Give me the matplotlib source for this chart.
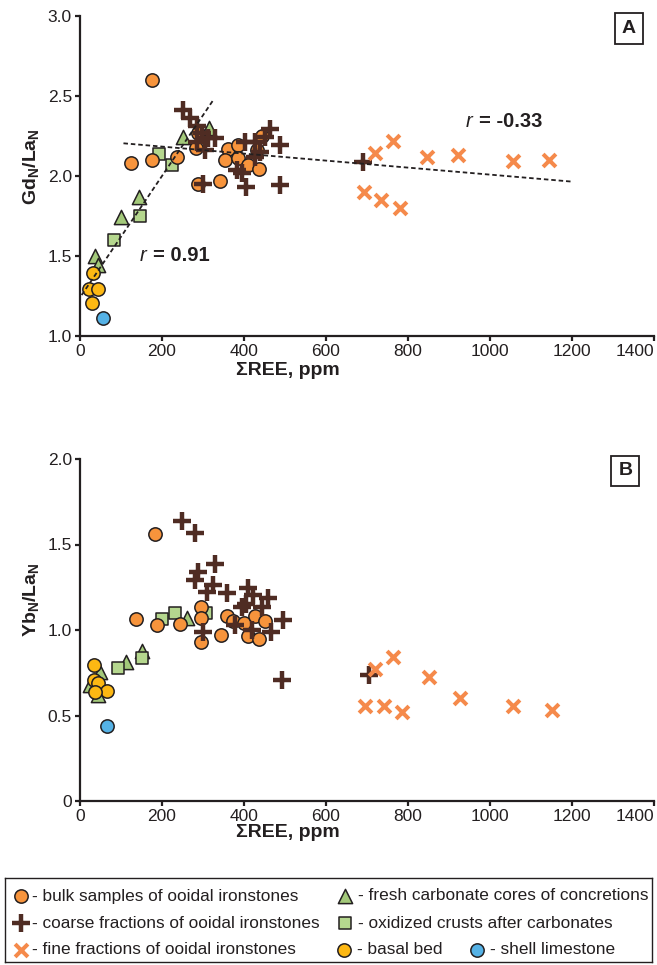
import matplotlib
matplotlib.use("Agg")
import matplotlib.pyplot as plt

plt.rcParams['font.family'] = 'Liberation Sans'
plt.rcParams['mathtext.fontset'] = 'custom'
plt.rcParams['mathtext.rm'] = 'Liberation Sans'
plt.rcParams['mathtext.it'] = 'Liberation Sans:italic'
plt.rcParams['mathtext.bf'] = 'Liberation Sans:bold'

# === Data: panel A (Gd_N/La_N vs sum REE) ===
bulk_a_x = [175, 124, 176, 236, 282, 288, 288, 341, 362, 386, 354, 386, 410, 437, 443, 431]
bulk_a_y = [2.60, 2.08, 2.10, 2.12, 2.175, 2.265, 1.95, 1.97, 2.17, 2.19, 2.10, 2.11, 2.07, 2.04, 2.25, 2.16]
coarse_a_x = [252, 268, 285, 297, 313, 329, 305, 285, 301, 402, 427, 451, 463, 488, 439, 382, 394, 406, 488, 427, 691]
coarse_a_y = [2.41, 2.36, 2.31, 2.265, 2.235, 2.235, 2.16, 2.21, 1.95, 2.21, 2.21, 2.245, 2.295, 2.19, 2.15,
              2.035, 2.015, 1.93, 1.94, 2.12, 2.085]
fine_a_x = [719, 763, 846, 923, 1057, 1145, 693, 733, 780]
fine_a_y = [2.14, 2.22, 2.12, 2.13, 2.09, 2.10, 1.90, 1.85, 1.80]
fresh_a_x = [37, 43, 100, 145, 250, 315]
fresh_a_y = [1.50, 1.44, 1.745, 1.87, 2.245, 2.30]
oxid_a_x = [84, 146, 193, 224]
oxid_a_y = [1.60, 1.75, 2.135, 2.07]
basal_a_x = [31, 23, 45, 30]
basal_a_y = [1.395, 1.295, 1.295, 1.205]
shell_a_x = [57]
shell_a_y = [1.11]

# trend lines
trend1_x = [4, 324]
trend1_y = [1.254, 2.469]
trend2_x = [106, 1202]
trend2_y = [2.2025, 1.9625]

# === Data: panel B (Yb_N/La_N vs sum REE) ===
bulk_b_x = [183, 137, 187, 244, 295, 295, 295, 344, 358, 374, 401, 410, 428, 437, 451]
bulk_b_y = [1.56, 1.065, 1.03, 1.035, 1.135, 1.07, 0.93, 0.97, 1.08, 1.05, 1.04, 0.965, 1.08, 0.95, 1.05]
coarse_b_x = [248, 280, 329, 289, 280, 325, 309, 358, 410, 423, 406, 459, 394, 443, 496, 378, 301, 419, 467, 492, 705]
coarse_b_y = [1.635, 1.57, 1.385, 1.34, 1.29, 1.265, 1.225, 1.215, 1.245, 1.205, 1.15, 1.185, 1.135, 1.135,
              1.06, 1.03, 0.99, 1.0, 0.99, 0.71, 0.735]
fine_b_x = [719, 764, 851, 927, 1057, 1150, 695, 741, 785]
fine_b_y = [0.77, 0.84, 0.725, 0.605, 0.555, 0.53, 0.555, 0.555, 0.52]
fresh_b_x = [49, 24, 45, 111, 150, 260]
fresh_b_y = [0.755, 0.68, 0.62, 0.815, 0.88, 1.07]
oxid_b_x = [93, 150, 200, 232, 307]
oxid_b_y = [0.775, 0.835, 1.065, 1.10, 1.10]
basal_b_x = [33, 33, 45, 65, 37]
basal_b_y = [0.795, 0.71, 0.69, 0.645, 0.64]
shell_b_x = [65]
shell_b_y = [0.44]

x_ticks = [0, 200, 400, 600, 800, 1000, 1200, 1400]
a_yticks = [1.0, 1.5, 2.0, 2.5, 3.0]
a_yticklabels = ["1.0", "1.5", "2.0", "2.5", "3.0"]
b_yticks = [0, 0.5, 1.0, 1.5, 2.0]
b_yticklabels = ["0", "0.5", "1.0", "1.5", "2.0"]

r_labels = ["= 0.91", "= -0.33"]
r_pos_x = [229, 1024]
r_pos_y = [1.50, 2.34]

legend_left = ["- bulk samples of ooidal ironstones",
               "- coarse fractions of ooidal ironstones",
               "- fine fractions of ooidal ironstones"]
legend_right = ["- fresh carbonate cores of concretions",
                "- oxidized crusts after carbonates",
                "- basal bed", "- shell limestone"]

# === Styles ===
INK = "#231f20"
C_BULK = "#f7943c"
C_COARSE = "#4f2c23"
C_FINE = "#f58a4b"
C_FRESH = "#a3c97a"
C_OXID = "#b5d78e"
C_BASAL = "#fdb813"
C_SHELL = "#55b2e6"

styles = {
    "fresh": dict(marker="^", s=105, c=C_FRESH, edgecolors=INK, linewidths=1.1),
    "oxid": dict(marker="s", s=78, c=C_OXID, edgecolors=INK, linewidths=1.1),
    "bulk": dict(marker="o", s=92, c=C_BULK, edgecolors=INK, linewidths=1.1),
    "coarse": dict(marker="+", s=160, c=C_COARSE, linewidths=3.2),
    "fine": dict(marker="x", s=85, c=C_FINE, linewidths=2.9),
    "basal": dict(marker="o", s=92, c=C_BASAL, edgecolors=INK, linewidths=1.1),
    "shell": dict(marker="o", s=92, c=C_SHELL, edgecolors=INK, linewidths=1.1),
}

W, H = 657, 965
fig = plt.figure(figsize=(W / 100, H / 100), dpi=100)

axA = fig.add_axes([80 / W, 629.3 / H, 574 / W, 320 / H])
axB = fig.add_axes([80 / W, 164 / H, 574 / W, 342 / H])


def style_axis(ax, ylim, yticks, yticklabels, ylabel, ylabel_y, xlabel_y):
    ax.set_xlim(0, 1400)
    ax.set_ylim(*ylim)
    ax.spines["top"].set_visible(False)
    ax.spines["right"].set_visible(False)
    for side in ("left", "bottom"):
        ax.spines[side].set_linewidth(1.6)
        ax.spines[side].set_color(INK)
    ax.set_xticks(x_ticks)
    ax.set_xticklabels([str(t) for t in x_ticks])
    ax.get_xticklabels()[-1].set_horizontalalignment("right")
    ax.set_yticks(yticks)
    ax.set_yticklabels(yticklabels)
    ax.tick_params(direction="out", length=3.8, width=1.6, color=INK,
                   labelsize=12.5, labelcolor=INK, pad=2)
    ax.set_xlabel("ΣREE, ppm", fontsize=14, fontweight="bold", color=INK)
    ax.xaxis.set_label_coords(0.3615, xlabel_y)
    ax.set_ylabel(ylabel, fontsize=14, color=INK)
    ax.yaxis.set_label_coords(-0.068, ylabel_y)


def draw_points(ax, groups):
    for key, xs, ys in groups:
        ax.scatter(xs, ys, clip_on=False, zorder=3, **styles[key])


style_axis(axA, (1.0, 3.0), a_yticks, a_yticklabels, r"$\mathbf{Gd_N/La_N}$", 0.527, -0.082)
style_axis(axB, (0, 2.0), b_yticks, b_yticklabels, r"$\mathbf{Yb_N/La_N}$", 0.588, -0.068)

draw_points(axA, [("fresh", fresh_a_x, fresh_a_y), ("oxid", oxid_a_x, oxid_a_y),
                  ("bulk", bulk_a_x, bulk_a_y), ("coarse", coarse_a_x, coarse_a_y),
                  ("fine", fine_a_x, fine_a_y), ("basal", basal_a_x, basal_a_y),
                  ("shell", shell_a_x, shell_a_y)])
draw_points(axB, [("fresh", fresh_b_x, fresh_b_y), ("oxid", oxid_b_x, oxid_b_y),
                  ("bulk", bulk_b_x, bulk_b_y), ("coarse", coarse_b_x, coarse_b_y),
                  ("fine", fine_b_x, fine_b_y), ("basal", basal_b_x, basal_b_y),
                  ("shell", shell_b_x, shell_b_y)])

# trend lines
axA.plot(trend1_x, trend1_y, color=INK, lw=1.3, ls=(0, (2.5, 1.6)), zorder=5)
axA.plot(trend2_x, trend2_y, color=INK, lw=1.3, ls=(0, (2.5, 1.6)), zorder=5)

# correlation labels: italic r + bold value
for rx, ry, rl in zip(r_pos_x, r_pos_y, r_labels):
    axA.annotate(rl, (rx, ry), xytext=(-15, 0), textcoords="offset points",
                 fontsize=14.5, fontweight="bold", color=INK, ha="left", va="center")
    axA.annotate("r", (rx, ry), xytext=(-20, 0), textcoords="offset points",
                 fontsize=14.5, fontstyle="italic", color=INK, ha="right", va="center")

box = dict(boxstyle="square,pad=0.35", fc="white", ec=INK, lw=1.3)
axA.text(0.956, 0.96, "A", transform=axA.transAxes, fontsize=14, fontweight="bold",
         ha="center", va="center", bbox=box, color=INK)
axB.text(0.950, 0.965, "B", transform=axB.transAxes, fontsize=14, fontweight="bold",
         ha="center", va="center", bbox=box, color=INK)

# === Legend (custom layout, pixel coordinates) ===
leg = fig.add_axes([5 / W, 3 / H, 647 / W, 84 / H])
leg.set_xlim(5, 652)
leg.set_ylim(962, 878)
leg.set_xticks([])
leg.set_yticks([])
for sp in leg.spines.values():
    sp.set_linewidth(1.0)
    sp.set_color(INK)

rows_y = [896, 923, 950]
left_keys = ["bulk", "coarse", "fine"]
for key, label, y in zip(left_keys, legend_left, rows_y):
    leg.scatter([21], [y], clip_on=False, **styles[key])
    leg.text(32, y, label, fontsize=12.4, color=INK, va="center", ha="left")

right_entries = [("fresh", legend_right[0], 345, rows_y[0]),
                 ("oxid", legend_right[1], 345, rows_y[1]),
                 ("basal", legend_right[2], 344, rows_y[2]),
                 ("shell", legend_right[3], 477, rows_y[2])]
for key, label, x, y in right_entries:
    leg.scatter([x], [y], clip_on=False, **styles[key])
    leg.text(x + 13, y, label, fontsize=12.4, color=INK, va="center", ha="left")

fig.savefig("out.png", dpi=100)
